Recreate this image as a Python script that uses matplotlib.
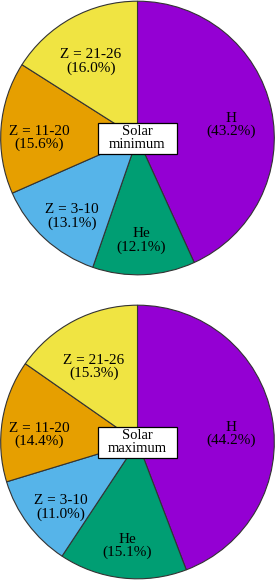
import matplotlib.pyplot as plt
from matplotlib.patches import Rectangle

plt.rcParams['font.family'] = ['Liberation Serif', 'DejaVu Serif']

labels = ['H', 'He', 'Z = 3-10', 'Z = 11-20', 'Z = 21-26']
solar_min = [43.2, 12.1, 13.1, 15.6, 16.0]
solar_max = [44.2, 15.1, 11.0, 14.4, 15.3]
titles = ['Solar\nminimum', 'Solar\nmaximum']
colors = ['#9400d3', '#009e73', '#56b4e9', '#e69f00', '#f0e442']

# label placement (in pie radius units), tuned by eye
pos_min = [(0.685, 0.095), (0.03, -0.75), (-0.48, -0.575), (-0.72, 0.0), (-0.34, 0.56)]
pos_max = [(0.687, 0.06), (-0.076, -0.76), (-0.56, -0.48), (-0.72, 0.05), (-0.32, 0.55)]

fig = plt.figure(figsize=(2.75, 5.8), dpi=100)
h = 276 / 580
ax_top = fig.add_axes([0, 1 - h, 1, h])
ax_bot = fig.add_axes([0, 0, 1, h])

for ax, vals, title, pos in zip([ax_top, ax_bot], [solar_min, solar_max], titles, [pos_min, pos_max]):
    texts = ['{}\n({:.1f}%)'.format(l, v) for l, v in zip(labels, vals)]
    wedges, txts = ax.pie(vals, labels=texts, colors=colors, startangle=90, counterclock=False,
                          radius=1.0,
                          wedgeprops=dict(edgecolor='#333333', linewidth=0.8),
                          textprops=dict(fontsize=11, ha='center', va='center', linespacing=1.0))
    for t, p in zip(txts, pos):
        t.set_position(p)
        t.set_ha('center')
    ax.add_patch(Rectangle((-0.29, -0.115), 0.58, 0.228, facecolor='white',
                           edgecolor='black', linewidth=0.9, zorder=5))
    ax.text(0, 0, title, fontsize=10.5, ha='center', va='center', linespacing=1.0, zorder=6)
    ax.set_xlim(-1.005, 1.005)
    ax.set_ylim(-1.005, 1.005)
    ax.set_aspect('equal')
    ax.axis('off')

fig.savefig('out.png', dpi=100)
plt.close(fig)
